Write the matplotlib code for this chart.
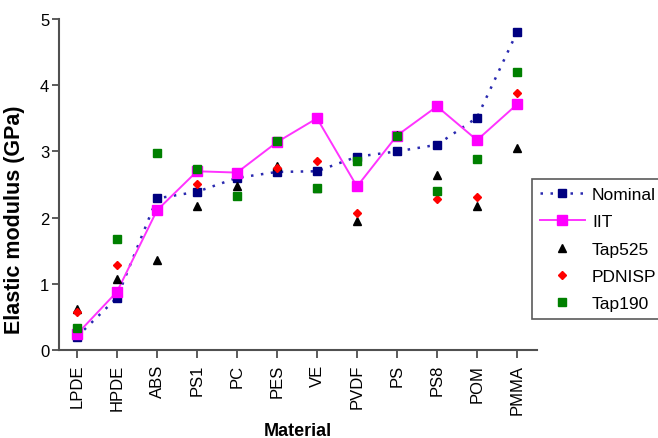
import matplotlib
matplotlib.use("Agg")
import matplotlib.pyplot as plt

plt.rcParams['font.family'] = ['Liberation Sans', 'DejaVu Sans']

materials = ["LPDE", "HPDE", "ABS", "PS1", "PC", "PES", "VE", "PVDF", "PS", "PS8", "POM", "PMMA"]
nominal = [0.20, 0.79, 2.29, 2.39, 2.60, 2.69, 2.70, 2.92, 3.00, 3.10, 3.51, 4.80]
iit     = [0.24, 0.88, 2.11, 2.70, 2.68, 3.14, 3.50, 2.47, 3.24, 3.68, 3.17, 3.71]
tap525  = [0.62, 1.08, 1.36, 2.18, 2.47, 2.78, 2.45, 1.95, 3.25, 2.64, 2.18, 3.05]
pdnisp  = [0.58, 1.29, None, 2.51, None, 2.75, 2.85, 2.07, None, 2.28, 2.31, 3.88]
tap190  = [0.33, 1.67, 2.97, 2.74, 2.32, 3.15, 2.44, 2.86, 3.24, 2.40, 2.88, 4.20]

x = list(range(len(materials)))

fig = plt.figure(figsize=(6.58, 4.39), dpi=100)
ax = fig.add_axes([59/658, 1 - 351/439, (537 - 59)/658, (351 - 20)/439])

ax.plot(x, nominal, linestyle=(0, (1, 3)), color='#2a2ab0', linewidth=1.8,
        marker='s', markersize=6, markerfacecolor='#000080', markeredgecolor='#000080',
        label='Nominal', zorder=3)
ax.plot(x, iit, linestyle='-', color='#ff33ff', linewidth=1.4,
        marker='s', markersize=6.5, markerfacecolor='#ff00ff', markeredgecolor='#ff00ff',
        label='IIT', zorder=4)

def pts(vals):
    xs = [i for i, v in zip(x, vals) if v is not None]
    ys = [v for v in vals if v is not None]
    return xs, ys

xs, ys = pts(tap525)
ax.plot(xs, ys, linestyle='none', marker='^', markersize=6, color='black', label='Tap525', zorder=5)
xs, ys = pts(pdnisp)
ax.plot(xs, ys, linestyle='none', marker='D', markersize=4.5, color='#ff0000', label='PDNISP', zorder=6)
xs, ys = pts(tap190)
ax.plot(xs, ys, linestyle='none', marker='s', markersize=6, color='#008000', label='Tap190', zorder=7)

ax.set_xlim(-0.45, 11.5)
ax.set_ylim(0, 5)
ax.set_yticks([0, 1, 2, 3, 4, 5])
ax.set_xticks(x)
ax.set_xticklabels(materials, rotation=90, fontsize=12)
ax.tick_params(axis='y', labelsize=12, length=5, width=1.2, color='#404040', pad=2)
ax.tick_params(axis='x', length=6, width=1.2, color='#404040', pad=4)

for s in ['top', 'right']:
    ax.spines[s].set_visible(False)
for s in ['left', 'bottom']:
    ax.spines[s].set_color('#505050')
    ax.spines[s].set_linewidth(1.5)

ax.set_ylabel('Elastic modulus (GPa)', fontsize=15.5, fontweight='bold')
ax.yaxis.set_label_coords(-0.072, 0.396)
ax.set_xlabel('Material', fontsize=13, fontweight='bold')
ax.xaxis.set_label_coords(0.5, -0.218)

leg = fig.legend(loc='upper left', bbox_to_anchor=(532/658, 1 - 180/439), fontsize=12.5,
                 frameon=True, fancybox=False, edgecolor='#303030', handlelength=2.6,
                 handletextpad=0.4, labelspacing=0.7, borderpad=0.45, borderaxespad=0)
leg.get_frame().set_linewidth(1.2)

fig.savefig('out.png', dpi=100)
